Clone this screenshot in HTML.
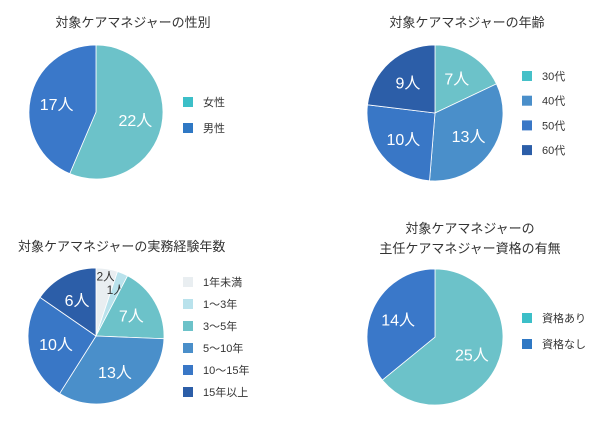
<!DOCTYPE html>
<html><head><meta charset="utf-8">
<style>
body{margin:0;background:#fff;width:600px;height:420px;overflow:hidden}
svg{font-family:"Liberation Sans","Noto Sans CJK JP",sans-serif}
</style></head><body>
<svg id="s" width="600" height="420"></svg>
<script>
const genderCats=["女性","男性"];
const genderVals=[22,17];
const ageCats=["30代","40代","50代","60代"];
const ageVals=[7,13,10,9];
const expCats=["1年未満","1〜3年","3〜5年","5〜10年","10〜15年","15年以上"];
const expVals=[2,1,7,13,10,6];
const qualCats=["資格あり","資格なし"];
const qualVals=[25,14];

const NS="http://www.w3.org/2000/svg";
const svg=document.getElementById('s');
function el(t,a,p){const e=document.createElementNS(NS,t);for(const k in a)e.setAttribute(k,a[k]);(p||svg).appendChild(e);return e;}
function txt(x,y,s,size,fill,anchor,p){const e=el('text',{x:x,y:y,'font-size':size,fill:fill,'text-anchor':anchor||'middle'},p);e.textContent=s;return e;}

function pie(name,cx,cy,r,vals,cats,colors,legendColors,lx,ly,lstep,labelCol){
  const g=el('g',{});
  
  
  const tot=vals.reduce((a,b)=>a+b,0);
  let a0=-Math.PI/2;
  let smallCount=0;
  vals.forEach((v,i)=>{
    const a1=a0+v/tot*2*Math.PI;
    const x0=cx+r*Math.cos(a0),y0=cy+r*Math.sin(a0),x1=cx+r*Math.cos(a1),y1=cy+r*Math.sin(a1);
    const large=(a1-a0)>Math.PI?1:0;
    const p=el('path',{d:`M${cx},${cy}L${x0},${y0}A${r},${r} 0 ${large} 1 ${x1},${y1}Z`,fill:colors[i],stroke:'#fff','stroke-width':0.8},g);
    
    
    const am=(a0+a1)/2;
    const small=v/tot<0.06;
    let rr=r*0.6;
    if(small){rr=r*(smallCount===0?0.9:0.75);smallCount++;}
    const t=txt(cx+rr*Math.cos(am),cy+rr*Math.sin(am)+(small?5:6),v+"人",small?12:16,labelCol[i],'middle',g);
    
    
    a0=a1;
  });
  cats.forEach((c,i)=>{
    const y=ly+i*lstep;
    const sq=el('rect',{x:lx,y:y-5,width:10,height:10,fill:legendColors[i]},g);
    
    
    const t=txt(lx+20,y+4,c,11,'#333','start',g);
    
    
  });
}
const t1=txt(133,27,"対象ケアマネジャーの性別",13,'#333');

pie('gender-pie',96,112,67,genderVals,genderCats,['#6cc2c9','#3a78c9'],['#3cbfc8','#2f78c4'],183,102,26,['#fff','#fff']);

const t2=txt(467,27,"対象ケアマネジャーの年齢",13,'#333');

pie('age-pie',435,113,68,ageVals,ageCats,['#6cc2c9','#4a8fca','#3977c6','#2c5ea8'],['#45c0c8','#4a8fca','#3977c6','#2c5ea8'],522,76,24.7,['#fff','#fff','#fff','#fff']);

const t3=txt(18,251,"対象ケアマネジャーの実務経験年数",13,'#333','start');

pie('experience-pie',96,336,68,expVals,expCats,['#e9eef1','#b9e2ec','#6cc2c9','#4a8fca','#3977c6','#2c5ea8'],['#e9eef1','#b9e2ec','#6cc2c9','#4a8fca','#3977c6','#2c5ea8'],183,282,22,['#333','#333','#fff','#fff','#fff','#fff']);

const t4=txt(470,233,"対象ケアマネジャーの",13,'#333');

const t5=txt(470,253,"主任ケアマネジャー資格の有無",13,'#333');

pie('qualification-pie',435,337,68,qualVals,qualCats,['#6cc2c9','#3a78c9'],['#3cbfc8','#2f78c4'],522,318,26,['#fff','#fff']);
</script>
</body></html>
